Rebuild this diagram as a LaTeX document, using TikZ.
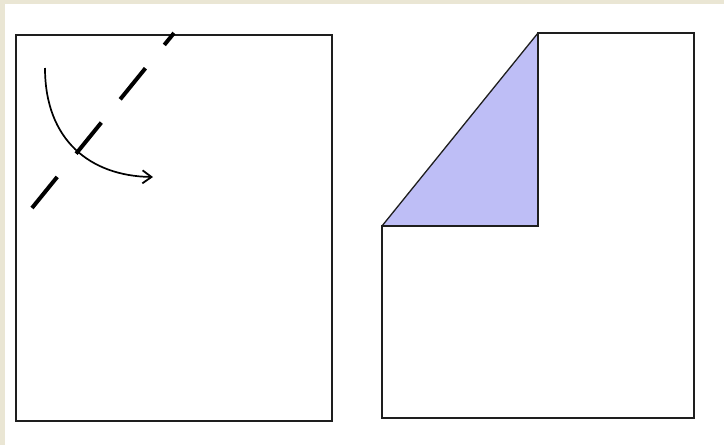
\documentclass[tikz,border=0pt]{standalone}
\usetikzlibrary{arrows.meta}
\definecolor{bgtint}{RGB}{234,230,212}
\definecolor{fold}{RGB}{190,190,246}
\definecolor{edge}{RGB}{30,30,30}
\tikzset{
  sheet/.style={draw=edge, line width=2.4pt, line join=miter},
  foldline/.style={draw=black, line width=4pt, dash pattern=on 40pt off 30pt},
  turn/.style={draw=black, line width=1.7pt, -{Straight Barb[length=9pt,width=13pt,line width=1.8pt]}}
}
\begin{document}
\begin{tikzpicture}[x=1pt,y=-1pt]
  \useasboundingbox (0,0) rectangle (724,445);
  \fill[white] (0,0) rectangle (724,445);
  \fill[bgtint] (0,0) rectangle (724,4);
  \fill[bgtint] (0,0) rectangle (5,445);
  % left sheet
  \draw[sheet] (16,35) rectangle (332,421);
  \coordinate (d1) at (32,208);
  \coordinate (d2) at (174,33);
  \draw[foldline] (d1) -- (d2);
  \coordinate (a1) at (45,68);
  \coordinate (a2) at (153,177);
  \draw[turn] (a1) .. controls (45,140) and (90,176) .. (a2);
  % right sheet with folded corner
  \coordinate (p1) at (382,226);
  \coordinate (p2) at (538,33);
  \coordinate (p3) at (538,226);
  \fill[fold] (p1) -- (p2) -- (p3) -- cycle;
  \draw[draw=edge, line width=1.3pt] (p1) -- (p2);
  \draw[sheet] (p2) -- (694,33) -- (694,418) -- (382,418) -- (p1) -- (p3) -- cycle;
\end{tikzpicture}
\end{document}
